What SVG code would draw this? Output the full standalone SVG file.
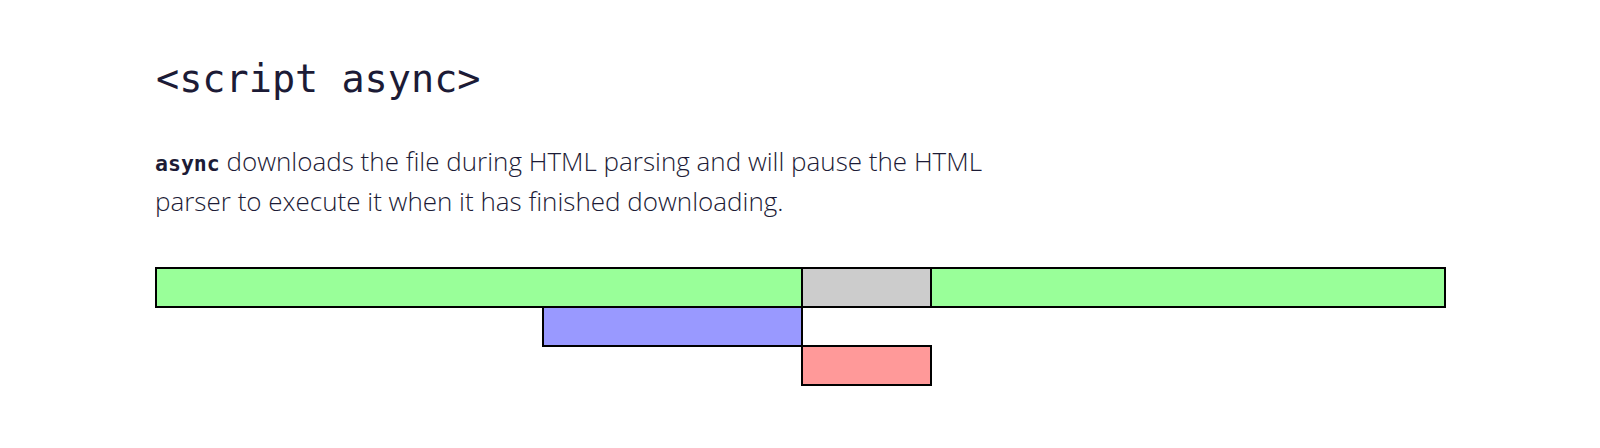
<svg xmlns="http://www.w3.org/2000/svg" width="1600" height="448" viewBox="0 0 1600 448">
<style>
.title{font-family:"DejaVu Sans Mono","Liberation Mono",monospace;font-size:38.5px;fill:#1c1b36}
.body{font-family:"Open Sans","Liberation Sans",sans-serif;font-size:26px;font-weight:300;fill:#1c1b36}
.code{font-family:"DejaVu Sans Mono","Liberation Mono",monospace;font-weight:bold;font-size:21.5px}
.bar{stroke:#000;stroke-width:2}
.parse{fill:#99ff99}
.exec{fill:#cccccc}
.fetch{fill:#9999ff}
.run{fill:#ff9999}
</style>
<rect width="1600" height="448" fill="#ffffff"/>
<g id="title"><text class="title" x="156" y="92">&lt;script async&gt;</text></g>
<g id="description">
<text class="body" x="155" y="171"><tspan class="code">async</tspan> downloads the file during HTML parsing and will pause the HTML</text>
<text class="body" x="155" y="211">parser to execute it when it has finished downloading.</text>
</g>
<g id="html-parsing-1"><rect class="bar parse" x="156" y="268" width="646" height="39"/></g>
<g id="html-paused"><rect class="bar exec" x="802" y="268" width="129" height="39"/></g>
<g id="html-parsing-2"><rect class="bar parse" x="931" y="268" width="514" height="39"/></g>
<g id="script-download"><rect class="bar fetch" x="543" y="307" width="259" height="39"/></g>
<g id="script-execution"><rect class="bar run" x="802" y="346" width="129" height="39"/></g>
<g id="connectors"></g>
</svg>
